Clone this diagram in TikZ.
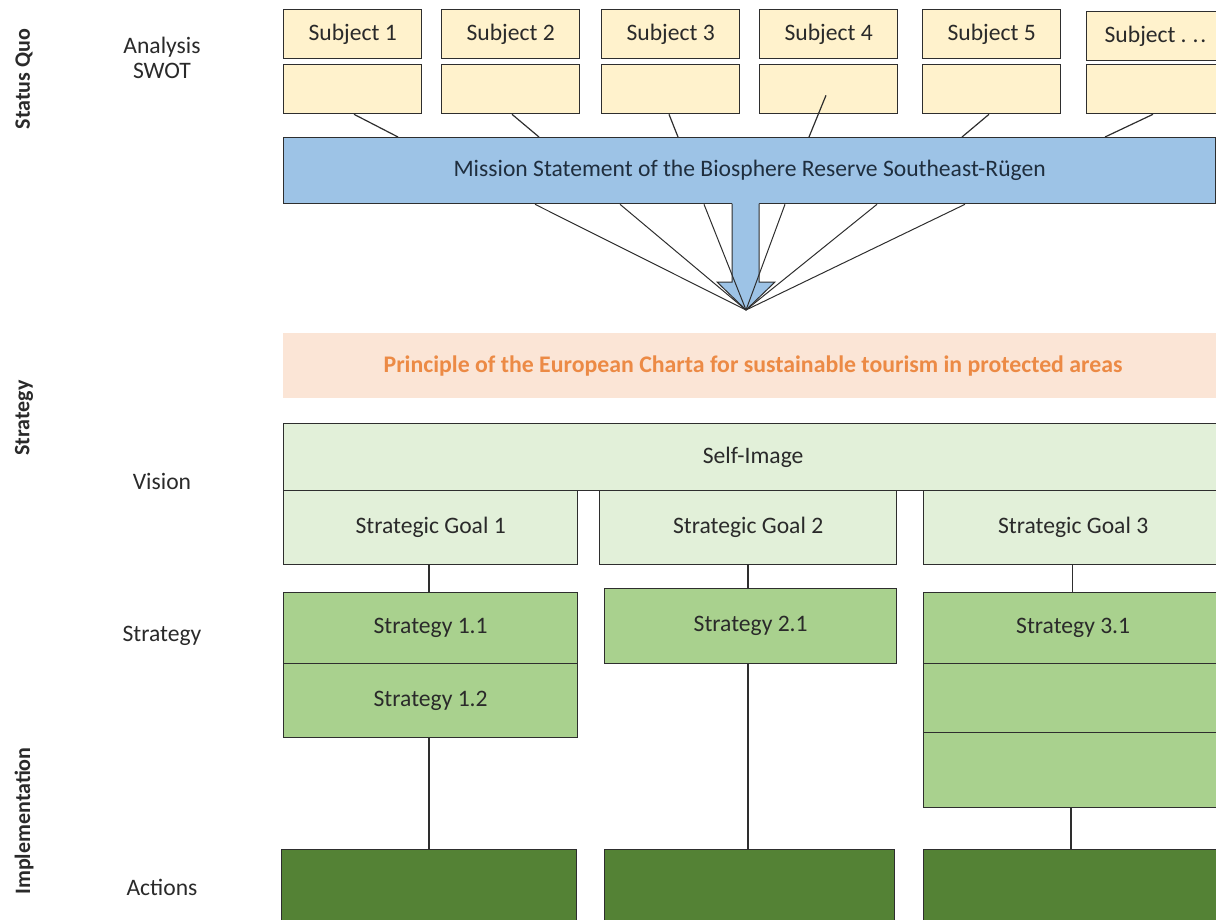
\documentclass[tikz,border=0pt]{standalone}
\usepackage{fontspec}
\setmainfont{Carlito}
\definecolor{bd}{HTML}{2E2E2E}
\definecolor{txt}{HTML}{2A2A2A}
\definecolor{subjfill}{HTML}{FFF2CC}
\definecolor{misfill}{HTML}{9DC3E6}
\definecolor{misttxt}{HTML}{1F2E3E}
\definecolor{chfill}{HTML}{FBE5D6}
\definecolor{chtxt}{HTML}{EC8A45}
\definecolor{visfill}{HTML}{E2F0D9}
\definecolor{strfill}{HTML}{A9D18E}
\definecolor{actfill}{HTML}{548235}
\tikzset{
  fnt/.style={font=\fontsize{23.6}{27}\selectfont},
  lbl/.style={fnt, text=txt},
  side/.style={font=\fontsize{22}{26}\selectfont\bfseries, text=txt, rotate=90},
  cell/.style={draw=bd, line width=1.3pt, anchor=north west, inner sep=0pt, fnt, text=txt},
  subj/.style={cell, fill=subjfill, minimum width=138pt, minimum height=49pt},
  vis/.style={cell, fill=visfill},
  strat/.style={cell, fill=strfill},
  act/.style={cell, fill=actfill},
  conn/.style={draw=bd, line width=1.2pt},
  fan/.style={draw=bd, line width=1pt}
}
\begin{document}
\begin{tikzpicture}[x=1pt,y=-1pt]
\useasboundingbox (0,0) rectangle (1216,919);
\clip (0,0) rectangle (1216,919);

% side labels
\node[side] (sq) at (24,79) {Status Quo};
\node[side] (st) at (24,418) {Strategy};
\node[side] (im) at (24,821) {Implementation};
\node[lbl, align=center] (an) at (162,58) {Analysis\\[-2pt]SWOT};
\node[lbl] (vi) at (162,481) {Vision};
\node[lbl] (sl) at (162,636) {Strategy};
\node[lbl] (ac) at (162,887) {Actions};

% subjects
\node[subj] (s1) at (283,9) {Subject 1};
\node[subj] (s1b) at (283,64) {};
\node[subj] (s2) at (441,9) {Subject 2};
\node[subj] (s2b) at (441,64) {};
\node[subj] (s3) at (601,9) {Subject 3};
\node[subj] (s3b) at (601,64) {};
\node[subj] (s4) at (759,9) {Subject 4};
\node[subj] (s4b) at (759,64) {};
\node[subj] (s5) at (922,9) {Subject 5};
\node[subj] (s5b) at (922,64) {};
\node[subj, minimum width=140pt, text width=120pt, align=left, inner xsep=18pt] (s6) at (1086,11) {Subject\hspace{5pt}.\hspace{6pt}.\hspace{2pt}.};
\node[subj, minimum width=140pt] (s6b) at (1086,64) {};

% mission
\node[cell, fill=misfill, minimum width=932pt, minimum height=66pt, text=misttxt] (mis) at (283,137) {Mission Statement of the Biosphere Reserve Southeast-R\"ugen};

\draw[conn] ([xshift=71pt]s1b.south west) -- ([xshift=115pt]mis.north west);
\draw[conn] ([xshift=71pt]s2b.south west) -- ([xshift=256pt]mis.north west);
\draw[conn] ([xshift=68pt]s3b.south west) -- ([xshift=395pt]mis.north west);
\draw[conn] ([xshift=67pt,yshift=19pt]s4b.south west) -- ([xshift=526pt]mis.north west);
\draw[conn] ([xshift=67pt]s5b.south west) -- ([xshift=679pt]mis.north west);
\draw[conn] ([xshift=67pt]s6b.south west) -- ([xshift=822pt]mis.north west);

% big arrow
\coordinate (tip) at (746,310);
\fill[misfill] (732,202) -- (732,282) -- (717,282) -- (tip) -- (775,282) -- (759,282) -- (759,202) -- cycle;
\draw[bd, line width=1pt, line join=miter] (732,203.5) -- (732,282) -- (717,282) -- (tip) -- (775,282) -- (759,282) -- (759,203.5);

\foreach \dx in {252,337,421,502,594,682}
  \draw[fan] ([xshift=\dx pt]mis.south west) -- (tip);

% charta band
\node[anchor=north west, fill=chfill, minimum width=933pt, minimum height=65pt, inner sep=0pt] (ch) at (283,333) {};
\node[font=\fontsize{23.8}{27}\selectfont\bfseries, text=chtxt] (cht) at (753,366) {Principle of the European Charta for sustainable tourism in protected areas};

% vision
\node[vis, minimum width=939pt, minimum height=67pt] (self) at (283,423) {Self-Image};
\node[vis, minimum width=294pt, minimum height=74pt] (g1) at (283,490) {Strategic Goal 1};
\node[vis, minimum width=297pt, minimum height=74pt] (g2) at (599,490) {Strategic Goal 2};
\node[vis, minimum width=300pt, minimum height=74pt] (g3) at (922.5,490) {Strategic Goal 3};

% strategies
\node[strat, minimum width=294pt, minimum height=71pt] (s11) at (283,592) {Strategy 1.1};
\node[strat, minimum width=294pt, minimum height=74pt] (s12) at (283,663) {Strategy 1.2};
\node[strat, minimum width=292pt, minimum height=75pt] (s21) at (604,588) {Strategy 2.1};
\node[strat, minimum width=300pt, minimum height=71pt] (s31) at (922.5,592) {Strategy 3.1};
\node[strat, minimum width=300pt, minimum height=69pt] (s32) at (922.5,663) {};
\node[strat, minimum width=300pt, minimum height=75pt] (s33) at (922.5,732) {};

% actions
\node[act, minimum width=295pt, minimum height=90pt] (a1) at (281,849) {};
\node[act, minimum width=290pt, minimum height=90pt] (a2) at (604,849) {};
\node[act, minimum width=300pt, minimum height=90pt] (a3) at (922.5,849) {};

% connectors
\draw[conn] ([xshift=146pt]g1.south west) -- ([xshift=146pt]s11.north west);
\draw[conn] ([xshift=149pt]g2.south west) -- ([xshift=144pt]s21.north west);
\draw[conn] ([xshift=150pt]g3.south west) -- ([xshift=150pt]s31.north west);
\draw[conn] ([xshift=146pt]s12.south west) -- ([xshift=148pt]a1.north west);
\draw[conn] ([xshift=144pt]s21.south west) -- ([xshift=144pt]a2.north west);
\draw[conn] ([xshift=148.5pt]s33.south west) -- ([xshift=148.5pt]a3.north west);
\end{tikzpicture}
\end{document}
